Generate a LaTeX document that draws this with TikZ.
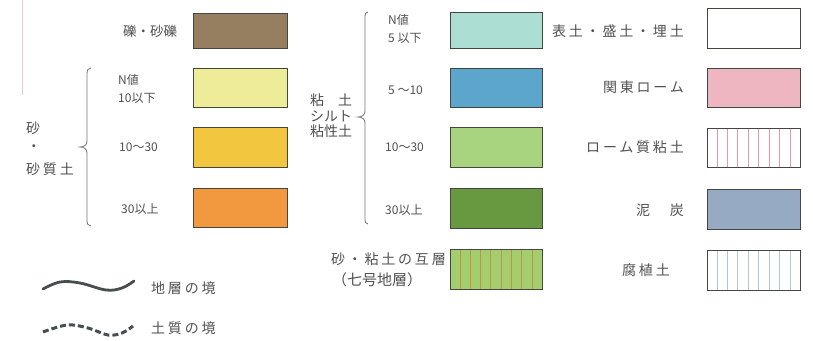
\documentclass[tikz,border=0pt]{standalone}
\usepackage{fontspec}
\newfontfamily\jpa{Noto Sans CJK JP}
\newfontfamily\jpb{Noto Sans CJK JP}[LetterSpace=20]
\usetikzlibrary{calc}
\definecolor{txt}{RGB}{80,80,80}
\definecolor{frame}{RGB}{70,70,65}
\definecolor{cGravel}{RGB}{150,126,96}
\definecolor{cSandA}{RGB}{238,236,152}
\definecolor{cSandB}{RGB}{242,198,62}
\definecolor{cSandC}{RGB}{242,152,62}
\definecolor{cClayA}{RGB}{172,222,212}
\definecolor{cClayB}{RGB}{92,166,204}
\definecolor{cClayC}{RGB}{168,212,128}
\definecolor{cClayD}{RGB}{104,152,64}
\definecolor{cAlt}{RGB}{162,206,112}
\definecolor{cAltLine}{RGB}{200,145,60}
\definecolor{cLoam}{RGB}{238,182,192}
\definecolor{cLoamLine}{RGB}{236,150,170}
\definecolor{cPeat}{RGB}{150,170,196}
\definecolor{cHumus}{RGB}{170,200,216}
\definecolor{cEdge}{RGB}{242,196,206}
\definecolor{cWave}{RGB}{72,78,78}
\tikzset{
  legbox/.style={draw=frame, line width=0.8pt, inner sep=0pt},
  lab/.style={text=txt, inner sep=0pt, font=\jpa\fontsize{13.5}{15}\selectfont},
  labw/.style={text=txt, inner sep=0pt, font=\jpb\fontsize{14}{16}\selectfont},
  num/.style={text=txt, inner sep=0pt, align=left, font=\jpa\fontsize{12}{18}\selectfont},
  bracket/.style={draw=txt!80, line width=0.8pt},
  hatch/.style={line width=0.8pt}
}
\begin{document}
\begin{tikzpicture}[x=1pt,y=-1pt]
\useasboundingbox (0,0) rectangle (813,340);
\draw[cEdge, line width=0.6pt] (22,0) -- (22,95);

% column 1 boxes
\node[legbox, fill=cGravel, minimum width=94pt, minimum height=35pt] (b1) at (240,30.5) {};
\node[legbox, fill=cSandA, minimum width=94pt, minimum height=39pt] (b2) at (240,87.5) {};
\node[legbox, fill=cSandB, minimum width=94pt, minimum height=40pt] (b3) at (240,147) {};
\node[legbox, fill=cSandC, minimum width=94pt, minimum height=39pt] (b4) at (240,207.5) {};

% column 2 boxes
\node[legbox, fill=cClayA, minimum width=92pt, minimum height=36pt] (c1) at (496,30) {};
\node[legbox, fill=cClayB, minimum width=92pt, minimum height=39pt] (c2) at (496,87.5) {};
\node[legbox, fill=cClayC, minimum width=92pt, minimum height=40pt] (c3) at (496,147) {};
\node[legbox, fill=cClayD, minimum width=92pt, minimum height=40pt] (c4) at (496,208) {};
\node[legbox, fill=cAlt, minimum width=92pt, minimum height=40pt] (c5) at (496,269) {};
\foreach \i in {1,...,8}
  \draw[hatch, cAltLine] ($(c5.south west)!\i/9!(c5.south east)$) -- ($(c5.north west)!\i/9!(c5.north east)$);
\node[legbox, minimum width=92pt, minimum height=40pt] at (496,269) {};

% column 3 boxes
\node[legbox, fill=white, minimum width=93pt, minimum height=40pt] (d1) at (753.5,28) {};
\node[legbox, fill=cLoam, minimum width=93pt, minimum height=39pt] (d2) at (753.5,87.5) {};
\node[legbox, fill=white, minimum width=93pt, minimum height=39pt] (d3) at (753.5,147.5) {};
\foreach \i in {1,...,8}
  \draw[hatch, cLoamLine] ($(d3.south west)!\i/9!(d3.south east)$) -- ($(d3.north west)!\i/9!(d3.north east)$);
\node[legbox, minimum width=93pt, minimum height=39pt] at (753.5,147.5) {};
\node[legbox, fill=cPeat, minimum width=93pt, minimum height=40pt] (d4) at (753.5,209) {};
\node[legbox, fill=white, minimum width=93pt, minimum height=40pt] (d5) at (753.5,270) {};
\foreach \i in {1,...,8}
  \draw[hatch, cHumus] ($(d5.south west)!\i/9!(d5.south east)$) -- ($(d5.north west)!\i/9!(d5.north east)$);
\node[legbox, minimum width=93pt, minimum height=40pt] at (753.5,270) {};

% column 1 texts
\node[lab] (t1) at (150,31) {礫・砂礫};
\node[num, anchor=west] (t2) at (118,89) {N値\\10以下};
\node[num, anchor=west] (t3) at (119,147) {10～30};
\node[num, anchor=west] (t4) at (121,209) {30以上};
\node[labw, anchor=west] (s1) at (26,128) {砂};
\node[labw] (s2) at (34,148) {・};
\node[labw, anchor=west] (s3) at (26,169) {砂質土};

% left brace
\coordinate (lb1) at (91,68);
\coordinate (lb2) at (80,147);
\coordinate (lb3) at (91,226);
\draw[bracket] (lb1) .. controls (88,68) and (87,70) .. (87,74) -- (87,141)
  .. controls (87,145) and (84,147) .. (lb2)
  .. controls (84,147) and (87,149) .. (87,153) -- (87,220)
  .. controls (87,224) and (88,226) .. (lb3);

% column 2 texts
\node[num, anchor=west] (u1) at (388,29) {N値\\5 以下};
\node[num, anchor=west] (u2) at (388,90) {5 ～10};
\node[num, anchor=west] (u3) at (385,147) {10～30};
\node[num, anchor=west] (u4) at (385,210) {30以上};
\node[text=txt, inner sep=0pt, align=center, font=\jpa\fontsize{14}{15.5}\selectfont] (v1) at (331,116) {粘　土\\シルト\\粘性土};

% right brace
\coordinate (rb1) at (368,12);
\coordinate (rb2) at (358,117);
\coordinate (rb3) at (368,224);
\draw[bracket] (rb1) .. controls (365.5,12) and (365,14) .. (365,18) -- (365,111)
  .. controls (365,115) and (362,117) .. (rb2)
  .. controls (362,117) and (365,119) .. (365,123) -- (365,218)
  .. controls (365,222) and (365.5,224) .. (rb3);

% alternating layers text
\node[labw, anchor=east] (w1) at (446,259) {砂・粘土の互層};
\node[text=txt, inner sep=0pt, font=\jpa\fontsize{15}{16}\selectfont] (w2) at (377,280) {（七号地層）};

% column 3 texts
\node[labw, anchor=east] (x1) at (684,31) {表土・盛土・埋土};
\node[labw, anchor=east] (x2) at (684,87) {関東ローム};
\node[labw, anchor=east] (x3) at (684,147) {ローム質粘土};
\node[labw, anchor=east] (x4) at (684,210) {泥　炭};
\node[labw] (x5) at (646,270) {腐植土};

% boundary legend
\coordinate (ws) at (43,289);
\coordinate (we) at (134,281);
\draw[cWave, line width=2.8pt, line cap=round] plot[smooth, tension=0.6] coordinates {(ws) (60,282) (80,283) (106,290) (122,288) (we)};
\node[labw, anchor=west] (y1) at (151,288) {地層の境};
\coordinate (ds) at (43,332);
\coordinate (de) at (133,326);
\draw[cWave, line width=3pt, dash pattern=on 6pt off 3pt] plot[smooth, tension=0.6] coordinates {(ds) (67,325) (88,328) (108,335) (122,333) (de)};
\node[labw, anchor=west] (y2) at (151,328) {土質の境};
\end{tikzpicture}
\end{document}
